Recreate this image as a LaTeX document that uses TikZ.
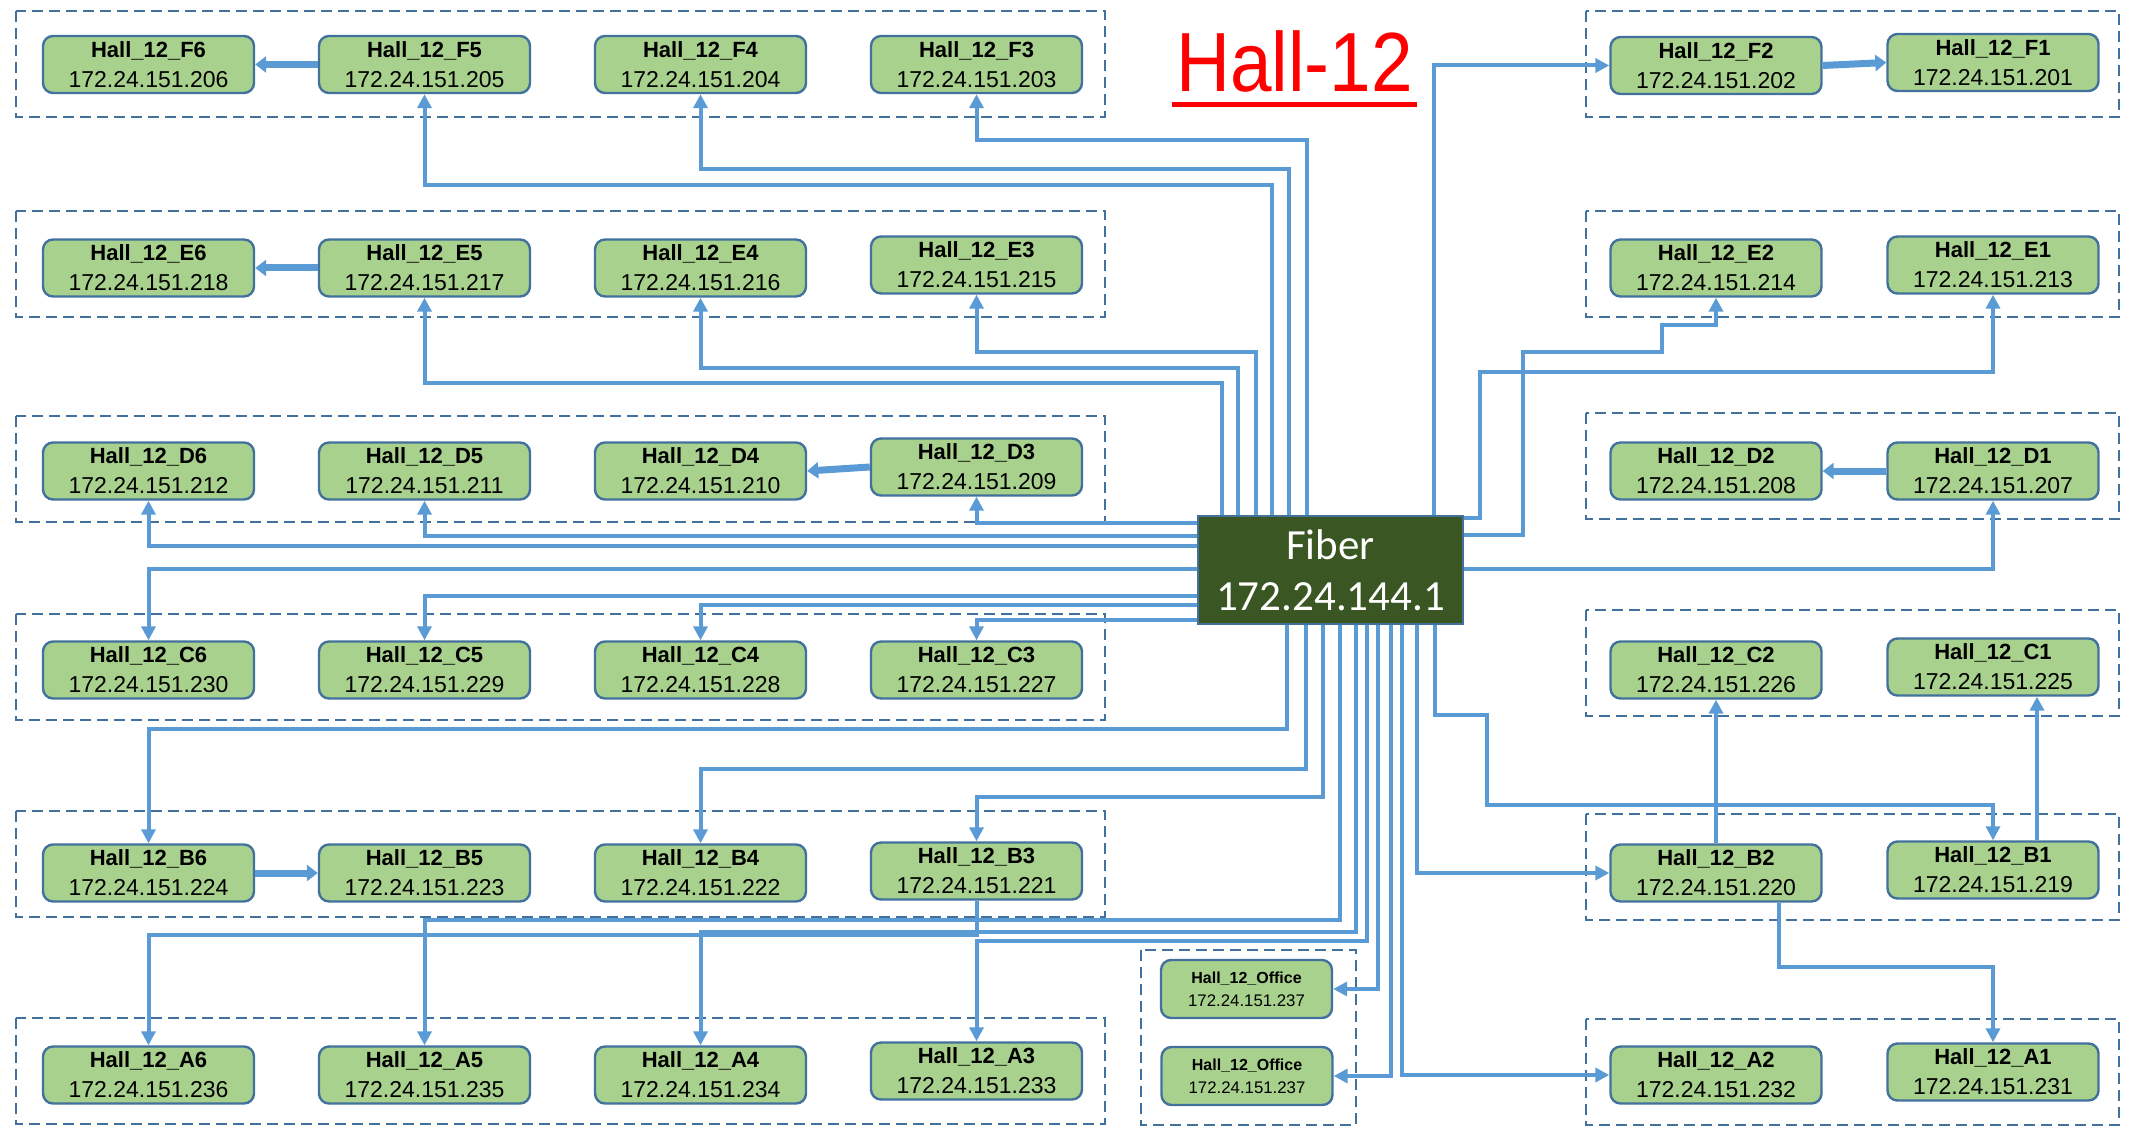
\documentclass[tikz,border=0pt]{standalone}
\usepackage{fontspec}
\setmainfont{Liberation Sans}
\newfontfamily\titlefont[FakeStretch=0.89]{Liberation Sans}
\newfontfamily\fiberfont{Carlito}
\usetikzlibrary{arrows.meta,calc}
\definecolor{conncol}{HTML}{5B9BD5}
\definecolor{nodefill}{HTML}{A9D18E}
\definecolor{nodeline}{HTML}{41719C}
\definecolor{grpline}{HTML}{41719C}
\definecolor{fibfill}{RGB}{58,87,35}
\newcommand{\devtxt}[2]{\textbf{#1}\\{\fontsize{11.5}{15}\selectfont #2}}
\newcommand{\offtxt}[2]{\textbf{#1}\\{\fontsize{8.4}{11.5}\selectfont #2}}
\begin{document}
\begin{tikzpicture}[x=0.5pt,y=-0.5pt,
  dev/.style={draw=nodeline, line width=1.2pt, fill=nodefill, rounded corners=5pt,
    minimum width=105.5pt, minimum height=28.5pt, inner sep=0pt, align=center,
    font=\fontsize{11}{15}\selectfont},
  offdev/.style={dev, minimum width=85.5pt, minimum height=29pt, font=\fontsize{8}{11.5}\selectfont},
  fiberbox/.style={draw=nodeline, line width=0.8pt, fill=fibfill, text=white,
    minimum width=132.5pt, minimum height=54pt, inner sep=0pt, align=center,
    font=\fiberfont\fontsize{21.5}{25.5}\selectfont},
  conn/.style={draw=conncol, line width=2pt, -{Triangle[length=7pt,width=7pt]}},
  chain/.style={draw=conncol, line width=3.5pt, -{Triangle[length=5.5pt,width=8pt]}},
  grp/.style={draw=grpline, line width=1.2pt, dash pattern=on 5.5pt off 3pt},
]
\useasboundingbox (0,0) rectangle (2134,1128);

% ---------- dashed groups ----------
\draw[grp] (16,11) rectangle (1105,117);
\draw[grp] (16,211) rectangle (1105,317);
\draw[grp] (16,416) rectangle (1105,522);
\draw[grp] (16,614) rectangle (1105,720);
\draw[grp] (16,811) rectangle (1105,917);
\draw[grp] (16,1018) rectangle (1105,1124);
\draw[grp] (1586,11) rectangle (2119,117);
\draw[grp] (1586,211) rectangle (2119,317);
\draw[grp] (1586,413) rectangle (2119,519);
\draw[grp] (1586,610) rectangle (2119,716);
\draw[grp] (1586,814) rectangle (2119,920);
\draw[grp] (1586,1019) rectangle (2119,1125);
\draw[grp] (1141,950) rectangle (1356,1125);

% ---------- title ----------
\node[text=red, font=\titlefont\fontsize{42}{42}\selectfont, anchor=base, inner sep=2pt] (title) at (1294.5,92) {Hall-12};
\draw[red, line width=2.5pt] ($(title.base west)+(0,12.5)$) -- ($(title.base east)+(0,12.5)$);

% ---------- fiber ----------
\node[fiberbox] (fib) at (1330.5,570) {Fiber\\172.24.144.1};

% ---------- left nodes ----------
\node[dev] (F6) at (148.5,64.5) {\devtxt{Hall\_12\_F6}{172.24.151.206}};
\node[dev] (F5) at (424.5,64.5) {\devtxt{Hall\_12\_F5}{172.24.151.205}};
\node[dev] (F4) at (700.5,64.5) {\devtxt{Hall\_12\_F4}{172.24.151.204}};
\node[dev] (F3) at (976.5,64.5) {\devtxt{Hall\_12\_F3}{172.24.151.203}};

\node[dev] (E6) at (148.5,268) {\devtxt{Hall\_12\_E6}{172.24.151.218}};
\node[dev] (E5) at (424.5,268) {\devtxt{Hall\_12\_E5}{172.24.151.217}};
\node[dev] (E4) at (700.5,268) {\devtxt{Hall\_12\_E4}{172.24.151.216}};
\node[dev] (E3) at (976.5,265) {\devtxt{Hall\_12\_E3}{172.24.151.215}};

\node[dev] (D6) at (148.5,471) {\devtxt{Hall\_12\_D6}{172.24.151.212}};
\node[dev] (D5) at (424.5,471) {\devtxt{Hall\_12\_D5}{172.24.151.211}};
\node[dev] (D4) at (700.5,471) {\devtxt{Hall\_12\_D4}{172.24.151.210}};
\node[dev] (D3) at (976.5,467) {\devtxt{Hall\_12\_D3}{172.24.151.209}};

\node[dev] (C6) at (148.5,670) {\devtxt{Hall\_12\_C6}{172.24.151.230}};
\node[dev] (C5) at (424.5,670) {\devtxt{Hall\_12\_C5}{172.24.151.229}};
\node[dev] (C4) at (700.5,670) {\devtxt{Hall\_12\_C4}{172.24.151.228}};
\node[dev] (C3) at (976.5,670) {\devtxt{Hall\_12\_C3}{172.24.151.227}};

\node[dev] (B6) at (148.5,873) {\devtxt{Hall\_12\_B6}{172.24.151.224}};
\node[dev] (B5) at (424.5,873) {\devtxt{Hall\_12\_B5}{172.24.151.223}};
\node[dev] (B4) at (700.5,873) {\devtxt{Hall\_12\_B4}{172.24.151.222}};
\node[dev] (B3) at (976.5,871) {\devtxt{Hall\_12\_B3}{172.24.151.221}};

\node[dev] (A6) at (148.5,1075) {\devtxt{Hall\_12\_A6}{172.24.151.236}};
\node[dev] (A5) at (424.5,1075) {\devtxt{Hall\_12\_A5}{172.24.151.235}};
\node[dev] (A4) at (700.5,1075) {\devtxt{Hall\_12\_A4}{172.24.151.234}};
\node[dev] (A3) at (976.5,1071) {\devtxt{Hall\_12\_A3}{172.24.151.233}};

% ---------- right nodes ----------
\node[dev] (F2) at (1716,65.5) {\devtxt{Hall\_12\_F2}{172.24.151.202}};
\node[dev] (F1) at (1993,62.5) {\devtxt{Hall\_12\_F1}{172.24.151.201}};
\node[dev] (E2) at (1716,268) {\devtxt{Hall\_12\_E2}{172.24.151.214}};
\node[dev] (E1) at (1993,265) {\devtxt{Hall\_12\_E1}{172.24.151.213}};
\node[dev] (D2) at (1716,471) {\devtxt{Hall\_12\_D2}{172.24.151.208}};
\node[dev] (D1) at (1993,471) {\devtxt{Hall\_12\_D1}{172.24.151.207}};
\node[dev] (C2) at (1716,670) {\devtxt{Hall\_12\_C2}{172.24.151.226}};
\node[dev] (C1) at (1993,667) {\devtxt{Hall\_12\_C1}{172.24.151.225}};
\node[dev] (B2) at (1716,873) {\devtxt{Hall\_12\_B2}{172.24.151.220}};
\node[dev] (B1) at (1993,870) {\devtxt{Hall\_12\_B1}{172.24.151.219}};
\node[dev] (A2) at (1716,1075) {\devtxt{Hall\_12\_A2}{172.24.151.232}};
\node[dev] (A1) at (1993,1072) {\devtxt{Hall\_12\_A1}{172.24.151.231}};

% ---------- office ----------
\node[offdev] (O1) at (1246.5,989) {\offtxt{Hall\_12\_Office}{172.24.151.237}};
\node[offdev] (O2) at (1247,1076) {\offtxt{Hall\_12\_Office}{172.24.151.237}};

% ---------- connectors: top ----------
\draw[conn] (fib.north -| 1307,0) |- (F3.south |- 0,140) -- (F3.south);
\draw[conn] (fib.north -| 1289,0) |- (F4.south |- 0,169) -- (F4.south);
\draw[conn] (fib.north -| 1272,0) |- (F5.south |- 0,185) -- (F5.south);
\draw[conn] (fib.north -| 1256,0) |- (E3.south |- 0,352) -- (E3.south);
\draw[conn] (fib.north -| 1238,0) |- (E4.south |- 0,368) -- (E4.south);
\draw[conn] (fib.north -| 1222,0) |- (E5.south |- 0,383) -- (E5.south);
\draw[conn] (fib.north -| 1434,0) |- (F2.west);

% ---------- connectors: right ----------
\draw[conn] (fib.east |- 0,518) -| (1480,372) -| (E1.south);
\draw[conn] (fib.east |- 0,535) -| (1523,352) -| (1662,325) -| (E2.south);
\draw[conn] (fib.east |- 0,569) -| (D1.south);

% ---------- connectors: left ----------
\draw[conn] (fib.west |- 0,523) -| (D3.south);
\draw[conn] (fib.west |- 0,536) -| (D5.south);
\draw[conn] (fib.west |- 0,546) -| (D6.south);
\draw[conn] (fib.west |- 0,569) -| (C6.north);
\draw[conn] (fib.west |- 0,596) -| (C5.north);
\draw[conn] (fib.west |- 0,605) -| (C4.north);
\draw[conn] (fib.west |- 0,620) -| (C3.north);

% ---------- connectors: bottom ----------
\draw[conn] (fib.south -| 1287,0) |- (B6.north |- 0,729) -- (B6.north);
\draw[conn] (fib.south -| 1306,0) |- (B4.north |- 0,769) -- (B4.north);
\draw[conn] (fib.south -| 1323,0) |- (B3.north |- 0,797) -- (B3.north);
\draw[conn] (fib.south -| 1340,0) |- (A5.north |- 0,920) -- (A5.north);
\draw[conn] (fib.south -| 1356,0) |- (A4.north |- 0,932) -- (A4.north);
\draw[conn] (fib.south -| 1367,0) |- (A3.north |- 0,941) -- (A3.north);
\draw[conn] (fib.south -| 1378,0) |- (O1.east);
\draw[conn] (fib.south -| 1391,0) |- (O2.east);
\draw[conn] (fib.south -| 1402,0) |- (A2.west);
\draw[conn] (fib.south -| 1417,0) |- (B2.west);
\draw[conn] (fib.south -| 1435,0) |- (1487,715) |- (B1.north |- 0,805) -- (B1.north);

% ---------- chains between devices ----------
\draw[chain] (F5.west) -- (F6.east);
\draw[chain] (E5.west) -- (E6.east);
\draw[chain] (D3.west) -- (D4.east);
\draw[chain] (B6.east) -- (B5.west);
\draw[chain] (F2.east) -- (F1.west);
\draw[chain] (D1.west) -- (D2.east);
\draw[conn] (B2.north) -- (C2.south);
\draw[conn] (B1.north -| 2037,0) -- (C1.south -| 2037,0);
\draw[conn] (B2.south -| 1779,0) |- (A1.north |- 0,967) -- (A1.north);
\draw[conn] (B3.south) |- (A6.north |- 0,935) -- (A6.north);
\end{tikzpicture}
\end{document}
